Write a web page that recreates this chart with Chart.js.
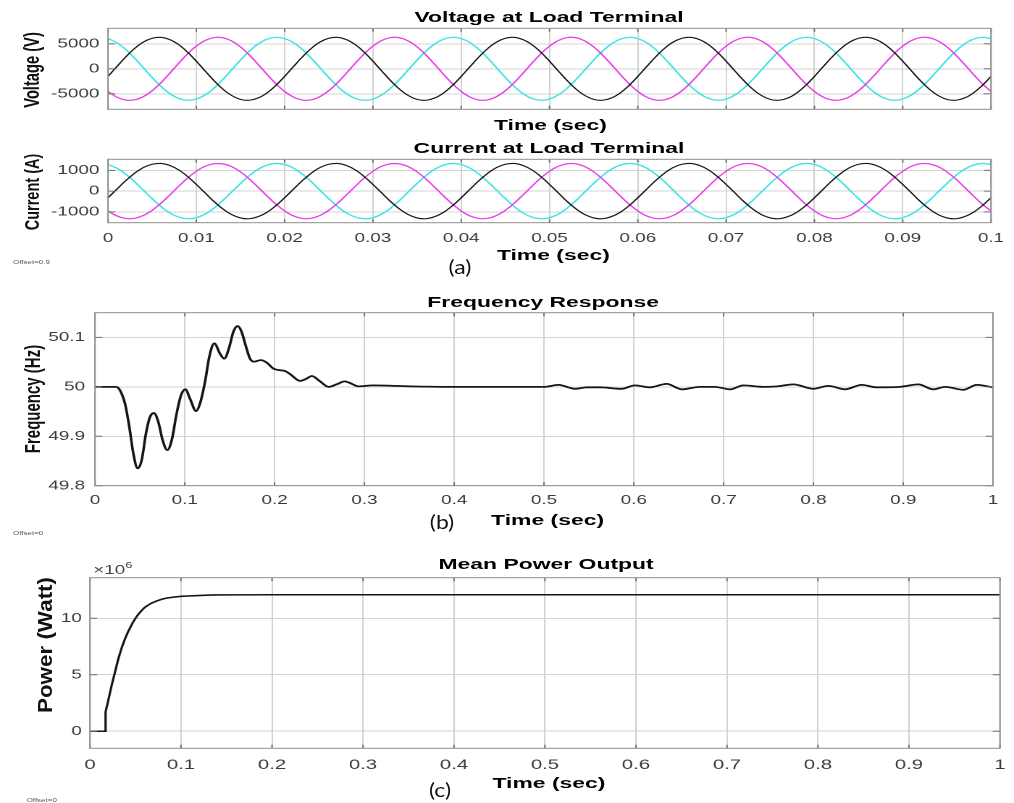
<!DOCTYPE html>
<html><head><meta charset="utf-8">
<script src="https://cdn.jsdelivr.net/npm/chart.js@4.4.1/dist/chart.umd.min.js"></script>
<style>
html,body{margin:0;padding:0;background:#fff;width:1014px;height:803px;overflow:hidden;position:relative;}
#stage{position:absolute;left:0;top:0;width:700px;height:803px;transform-origin:0 0;transform:scaleX(1.448571);}
.cv{position:absolute;left:0;width:700px;}
.t{position:absolute;white-space:nowrap;font-family:"Liberation Sans",Arial,Helvetica,sans-serif;line-height:1;color:#000;}
.ttl{font-size:14px;font-weight:bold;transform:translateX(-50%) scaleX(1.13);}
.yl{font-weight:bold;color:#111;}
.off{font-size:5.5px;color:#555;}
.lab{position:absolute;white-space:nowrap;font-family:Lato,"Noto Sans",sans-serif;font-size:20px;line-height:1;color:#111;transform:translateX(-50%) scaleX(1.15);}
</style></head><body>
<div id="stage">
  <div class="cv" style="top:20px;height:100px"><canvas id="cV" width="700" height="100"></canvas></div>
  <div class="cv" style="top:150px;height:100px"><canvas id="cI" width="700" height="100"></canvas></div>
  <div class="cv" style="top:305px;height:205px"><canvas id="cF" width="700" height="205"></canvas></div>
  <div class="cv" style="top:570px;height:200px"><canvas id="cP" width="700" height="200"></canvas></div>

  <div class="t ttl" style="left:378.6px;top:9.8px">Voltage at Load Terminal</div>
  <div class="t ttl" style="left:379.5px;top:118.1px">Time (sec)</div>
  <div class="t ttl" style="left:379px;top:141.4px">Current at Load Terminal</div>
  <div class="t ttl" style="left:381.8px;top:248.1px">Time (sec)</div>
  <div class="t ttl" style="left:375.4px;top:294.8px">Frequency Response</div>
  <div class="t ttl" style="left:378px;top:513.1px">Time (sec)</div>
  <div class="t ttl" style="left:376.9px;top:557.1px">Mean Power Output</div>
  <div class="t ttl" style="left:378.9px;top:776.4px">Time (sec)</div>

  <div class="t yl" style="left:21.9px;top:70px;font-size:14.7px;transform:translate(-50%,-50%) rotate(-90deg)">Voltage (V)</div>
  <div class="t yl" style="left:21.9px;top:191.7px;font-size:14.5px;transform:translate(-50%,-50%) rotate(-90deg)">Current (A)</div>
  <div class="t yl" style="left:21.9px;top:399px;font-size:15px;transform:translate(-50%,-50%) rotate(-90deg)">Frequency (Hz)</div>
  <div class="t yl" style="left:30.5px;top:645px;font-size:14px;transform:translate(-50%,-50%) rotate(-90deg) scaleX(1.6)">Power (Watt)</div>

  <div class="t" style="left:64.4px;top:563.3px;font-size:13px;color:#444">×10<span style="font-size:9px;position:relative;top:-6px">6</span></div>

  <div class="t off" style="left:9px;top:259.8px">Offset=0.9</div>
  <div class="t off" style="left:9px;top:530.8px">Offset=0</div>
  <div class="t off" style="left:18.4px;top:798px">Offset=0</div>
</div>
<div class="lab" style="left:460px;top:256.3px">(a)</div>
<div class="lab" style="left:442px;top:511px">(b)</div>
<div class="lab" style="left:440px;top:779px">(c)</div>

<script>
// ---------- data ----------
const TIME_A = [
0,0.001,0.002,0.003,0.004,0.005,0.006,0.007,0.008,0.009,
0.010,0.011,0.012,0.013,0.014,0.015,0.016,0.017,0.018,0.019,
0.020,0.021,0.022,0.023,0.024,0.025,0.026,0.027,0.028,0.029,
0.030,0.031,0.032,0.033,0.034,0.035,0.036,0.037,0.038,0.039,
0.040,0.041,0.042,0.043,0.044,0.045,0.046,0.047,0.048,0.049,
0.050,0.051,0.052,0.053,0.054,0.055,0.056,0.057,0.058,0.059,
0.060,0.061,0.062,0.063,0.064,0.065,0.066,0.067,0.068,0.069,
0.070,0.071,0.072,0.073,0.074,0.075,0.076,0.077,0.078,0.079,
0.080,0.081,0.082,0.083,0.084,0.085,0.086,0.087,0.088,0.089,
0.090,0.091,0.092,0.093,0.094,0.095,0.096,0.097,0.098,0.099,
0.100];

const VOLT_BLACK = [
-1520,440,2360,4050,5340,6110,6290,5840,4830,3340,1520,-440,-2360,-4050,-5340,-6110,-6290,-5840,-4830,-3340,
-1520,440,2360,4050,5340,6110,6290,5840,4830,3340,1520,-440,-2360,-4050,-5340,-6110,-6290,-5840,-4830,-3340,
-1520,440,2360,4050,5340,6110,6290,5840,4830,3340,1520,-440,-2360,-4050,-5340,-6110,-6290,-5840,-4830,-3340,
-1520,440,2360,4050,5340,6110,6290,5840,4830,3340,1520,-440,-2360,-4050,-5340,-6110,-6290,-5840,-4830,-3340,
-1520,440,2360,4050,5340,6110,6290,5840,4830,3340,1520,-440,-2360,-4050,-5340,-6110,-6290,-5840,-4830,-3340,
-1520];
const VOLT_MAGENTA = [
-4530,-5660,-6240,-6210,-5560,-4380,-2760,-880,1100,2960,4530,5660,6240,6210,5560,4380,2760,880,-1100,-2960,
-4530,-5660,-6240,-6210,-5560,-4380,-2760,-880,1100,2960,4530,5660,6240,6210,5560,4380,2760,880,-1100,-2960,
-4530,-5660,-6240,-6210,-5560,-4380,-2760,-880,1100,2960,4530,5660,6240,6210,5560,4380,2760,880,-1100,-2960,
-4530,-5660,-6240,-6210,-5560,-4380,-2760,-880,1100,2960,4530,5660,6240,6210,5560,4380,2760,880,-1100,-2960,
-4530,-5660,-6240,-6210,-5560,-4380,-2760,-880,1100,2960,4530,5660,6240,6210,5560,4380,2760,880,-1100,-2960,
-4530];
const VOLT_CYAN = [
6050,5220,3880,2150,220,-1740,-3520,-4960,-5920,-6290,-6050,-5220,-3880,-2150,-220,1740,3520,4960,5920,6290,
6050,5220,3880,2150,220,-1740,-3520,-4960,-5920,-6290,-6050,-5220,-3880,-2150,-220,1740,3520,4960,5920,6290,
6050,5220,3880,2150,220,-1740,-3520,-4960,-5920,-6290,-6050,-5220,-3880,-2150,-220,1740,3520,4960,5920,6290,
6050,5220,3880,2150,220,-1740,-3520,-4960,-5920,-6290,-6050,-5220,-3880,-2150,-220,1740,3520,4960,5920,6290,
6050,5220,3880,2150,220,-1740,-3520,-4960,-5920,-6290,-6050,-5220,-3880,-2150,-220,1740,3520,4960,5920,6290,
6050];

const CUR_BLACK = [
-320,90,500,855,1130,1290,1330,1230,1020,705,320,-90,-500,-855,-1130,-1290,-1330,-1230,-1020,-705,
-320,90,500,855,1130,1290,1330,1230,1020,705,320,-90,-500,-855,-1130,-1290,-1330,-1230,-1020,-705,
-320,90,500,855,1130,1290,1330,1230,1020,705,320,-90,-500,-855,-1130,-1290,-1330,-1230,-1020,-705,
-320,90,500,855,1130,1290,1330,1230,1020,705,320,-90,-500,-855,-1130,-1290,-1330,-1230,-1020,-705,
-320,90,500,855,1130,1290,1330,1230,1020,705,320,-90,-500,-855,-1130,-1290,-1330,-1230,-1020,-705,
-320];
const CUR_MAGENTA = [
-955,-1195,-1315,-1310,-1175,-925,-585,-185,230,625,955,1195,1315,1310,1175,925,585,185,-230,-625,
-955,-1195,-1315,-1310,-1175,-925,-585,-185,230,625,955,1195,1315,1310,1175,925,585,185,-230,-625,
-955,-1195,-1315,-1310,-1175,-925,-585,-185,230,625,955,1195,1315,1310,1175,925,585,185,-230,-625,
-955,-1195,-1315,-1310,-1175,-925,-585,-185,230,625,955,1195,1315,1310,1175,925,585,185,-230,-625,
-955,-1195,-1315,-1310,-1175,-925,-585,-185,230,625,955,1195,1315,1310,1175,925,585,185,-230,-625,
-955];
const CUR_CYAN = [
1280,1105,820,455,45,-365,-745,-1050,-1250,-1330,-1280,-1105,-820,-455,-45,365,745,1050,1250,1330,
1280,1105,820,455,45,-365,-745,-1050,-1250,-1330,-1280,-1105,-820,-455,-45,365,745,1050,1250,1330,
1280,1105,820,455,45,-365,-745,-1050,-1250,-1330,-1280,-1105,-820,-455,-45,365,745,1050,1250,1330,
1280,1105,820,455,45,-365,-745,-1050,-1250,-1330,-1280,-1105,-820,-455,-45,365,745,1050,1250,1330,
1280,1105,820,455,45,-365,-745,-1050,-1250,-1330,-1280,-1105,-820,-455,-45,365,745,1050,1250,1330,
1280];

const TIME_TICKS_A = [0,0.01,0.02,0.03,0.04,0.05,0.06,0.07,0.08,0.09,0.1];
const TIME_LABELS_A = ['0','0.01','0.02','0.03','0.04','0.05','0.06','0.07','0.08','0.09','0.1'];
const VOLT_TICKS = [-5000,0,5000];
const VOLT_LABELS = ['-5000','0','5000'];
const CUR_TICKS = [-1000,0,1000];
const CUR_LABELS = ['-1000','0','1000'];

const TIME_FREQ = [0,0.0234,0.0278,0.0334,0.0382,0.0427,0.0475,0.052,0.0568,0.0612,0.0657,0.0705,0.0753,0.0805,0.0854,0.0909,0.0958,0.1006,0.1058,0.1125,0.1169,0.1225,0.1273,0.1329,0.1392,0.144,0.1496,0.154,0.1589,0.1633,0.1682,0.1726,0.177,0.1845,0.1912,0.1986,0.2042,0.2116,0.2171,0.2285,0.235,0.2415,0.250,0.260,0.269,0.278,0.286,0.293,0.31,0.35,0.4,0.5004,0.5159,0.5345,0.5475,0.5624,0.5865,0.6013,0.618,0.6366,0.6533,0.6737,0.69,0.7071,0.722,0.7442,0.76,0.7776,0.7999,0.8166,0.8352,0.8537,0.8704,0.8964,0.9168,0.9336,0.9466,0.967,0.9819,1.0];
const FREQ_HZ = [50,50,49.993,49.966,49.919,49.865,49.835,49.852,49.906,49.939,49.947,49.929,49.892,49.872,49.892,49.946,49.983,49.995,49.976,49.951,49.966,50.010,50.061,50.088,50.067,50.057,50.081,50.111,50.123,50.111,50.081,50.057,50.051,50.054,50.049,50.037,50.034,50.032,50.026,50.012,50.016,50.022,50.012,50.000,50.005,50.011,50.006,50.001,50.003,50.001,50.0,50.000,50.004,49.996,49.999,49.999,49.996,50.003,49.999,50.006,49.995,50.000,50.000,49.995,50.003,50.000,50.001,50.005,49.996,50.002,49.995,50.004,49.999,50.000,50.005,49.995,50.000,49.994,50.004,49.999];
const TIME_TICKS_B = [0,0.1,0.2,0.3,0.4,0.5,0.6,0.7,0.8,0.9,1];
const TIME_LABELS_B = ['0','0.1','0.2','0.3','0.4','0.5','0.6','0.7','0.8','0.9','1'];
const FREQ_TICKS = [49.8,49.9,50,50.1];
const FREQ_LABELS = ['49.8','49.9','50','50.1'];

// power in units of 10^6 W
const TIME_POW = [0,0.0170,0.0171,0.0201,0.0238,0.0275,0.0311,0.0348,0.0385,0.0412,0.044,0.0467,0.0495,0.0522,0.055,0.0577,0.0604,0.064,0.0678,0.073,0.0788,0.084,0.0897,0.095,0.1007,0.108,0.1154,0.125,0.137,0.16,0.2,0.3,0.5,0.7,1.0];
const POWER_MW = [0,0,1.71,2.74,4.06,5.24,6.41,7.38,8.18,8.7,9.15,9.57,9.94,10.26,10.53,10.77,10.97,11.17,11.35,11.52,11.68,11.78,11.85,11.90,11.94,11.97,12.0,12.03,12.06,12.07,12.08,12.08,12.08,12.08,12.08];
const POW_TICKS = [0,5,10];
const POW_LABELS = ['0','5','10'];

// ---------- drawing ----------
const FONT = '"Liberation Sans", Arial, Helvetica, sans-serif';
const GRID = '#d2d2d2';
const TICKC = '#3a3a3a';
const BLACK = '#151515', MAGENTA = '#e83ce8', CYAN = '#3fe3e3';

const boxPlugin = {
  id: 'box',
  afterDraw(chart) {
    const a = chart.chartArea, c = chart.ctx, sx = chart.scales.x, sy = chart.scales.y;
    c.save();
    c.strokeStyle = '#707070'; c.lineWidth = 1; c.beginPath();
    sx.ticks.forEach(t => { const p = sx.getPixelForValue(t.value);
      c.moveTo(p, a.bottom); c.lineTo(p, a.bottom - 3.5); c.moveTo(p, a.top); c.lineTo(p, a.top + 3.5); });
    sy.ticks.forEach(t => { const p = sy.getPixelForValue(t.value);
      c.moveTo(a.left, p); c.lineTo(a.left + 5, p); c.moveTo(a.right, p); c.lineTo(a.right - 5, p); });
    c.stroke();
    c.strokeStyle = '#8f8f8f';
    c.strokeRect(a.left, a.top, a.right - a.left, a.bottom - a.top);
    c.restore();
  }
};

function build(id, o) {
  return new Chart(document.getElementById(id), {
    type: 'line',
    data: { datasets: o.series.map(s => ({
      data: o.x.map((x, i) => ({ x: x, y: s.y[i] })),
      borderColor: s.color, borderWidth: s.w, pointRadius: 0, fill: false,
      tension: s.mode === 'spline' ? 0.4 : 0,
      cubicInterpolationMode: s.mode === 'mono' ? 'monotone' : 'default'
    })) },
    options: {
      responsive: false, devicePixelRatio: 2, animation: false, events: [],
      layout: { padding: { left: 0, right: o.R, top: o.PT, bottom: 0 } },
      plugins: { legend: { display: false }, tooltip: { enabled: false }, title: { display: false } },
      scales: {
        x: {
          type: 'linear', min: o.xmin, max: o.xmax,
          afterBuildTicks: s => { s.ticks = o.xt.map(v => ({ value: v })); },
          afterFit: s => { s.height = o.B; s.paddingLeft = 0; s.paddingRight = 0; },
          grid: { color: GRID, lineWidth: 1, drawTicks: false },
          border: { display: false },
          ticks: { display: !!o.xl, autoSkip: false, maxRotation: 0, minRotation: 0, padding: o.xpad,
            color: TICKC, font: { family: FONT, size: o.xfs },
            callback: (v, i) => o.xl ? o.xl[i] : '' }
        },
        y: {
          type: 'linear', min: o.ymin, max: o.ymax,
          afterBuildTicks: s => { s.ticks = o.yt.map(v => ({ value: v })); },
          afterFit: s => { s.width = o.L; s.paddingTop = 0; s.paddingBottom = 0; },
          grid: { color: GRID, lineWidth: 1, drawTicks: false },
          border: { display: false },
          ticks: { autoSkip: false, padding: o.ypad, color: TICKC, font: { family: FONT, size: 13 },
            callback: (v, i) => o.yl[i] }
        }
      }
    },
    plugins: [boxPlugin]
  });
}

build('cV', { x: TIME_A, xmin: 0, xmax: 0.1, xt: TIME_TICKS_A, xl: null, xpad: 8, xfs: 13,
  ymin: -8100, ymax: 8100, yt: VOLT_TICKS, yl: VOLT_LABELS, ypad: 6,
  L: 74.56, R: 15.87, PT: 8.3, B: 10.7,
  series: [{ y: VOLT_BLACK, color: BLACK, w: 1.1, mode: 'spline' }, { y: VOLT_MAGENTA, color: MAGENTA, w: 1.2, mode: 'spline' }, { y: VOLT_CYAN, color: CYAN, w: 1.3, mode: 'spline' }] });

build('cI', { x: TIME_A, xmin: 0, xmax: 0.1, xt: TIME_TICKS_A, xl: TIME_LABELS_A, xpad: 7.8, xfs: 13,
  ymin: -1520, ymax: 1530, yt: CUR_TICKS, yl: CUR_LABELS, ypad: 6,
  L: 74.56, R: 15.87, PT: 9.3, B: 27.3,
  series: [{ y: CUR_BLACK, color: BLACK, w: 1.1, mode: 'spline' }, { y: CUR_MAGENTA, color: MAGENTA, w: 1.2, mode: 'spline' }, { y: CUR_CYAN, color: CYAN, w: 1.3, mode: 'spline' }] });

build('cF', { x: TIME_FREQ, xmin: 0, xmax: 1, xt: TIME_TICKS_B, xl: TIME_LABELS_B, xpad: 7, xfs: 13,
  ymin: 49.8, ymax: 50.15, yt: FREQ_TICKS, yl: FREQ_LABELS, ypad: 6.9,
  L: 65.58, R: 14.5, PT: 7.7, B: 24.3,
  series: [{ y: FREQ_HZ, color: BLACK, w: 1.8, mode: 'mono' }] });

build('cP', { x: TIME_POW, xmin: 0, xmax: 1, xt: TIME_TICKS_B, xl: TIME_LABELS_B, xpad: 8.3, xfs: 14,
  ymin: -1.51, ymax: 13.59, yt: POW_TICKS, yl: POW_LABELS, ypad: 5.7,
  L: 62.13, R: 9.7, PT: 7.7, B: 21.7,
  series: [{ y: POWER_MW, color: BLACK, w: 1.6, mode: 'linear' }] });
</script>
</body></html>
